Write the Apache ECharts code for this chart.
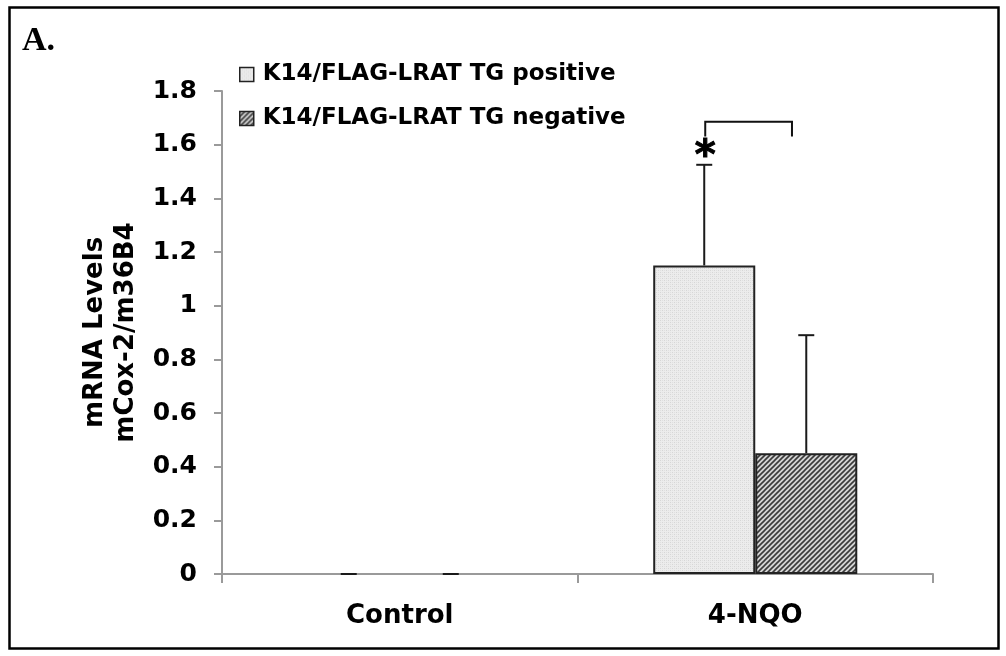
<!DOCTYPE html>
<html>
<head>
<meta charset="utf-8">
<script src="https://cdn.jsdelivr.net/npm/echarts@6/dist/echarts.min.js"></script>
<style>
html,body{margin:0;padding:0;background:#fff;}
#chart{width:1006px;height:656px;}
</style>
</head>
<body>
<div id="chart"></div>
<script>
// ---- data ----
const categories = ['Control', '4-NQO'];
const seriesNames = ['K14/FLAG-LRAT TG positive', 'K14/FLAG-LRAT TG negative'];
const positiveValues = [0, 1.15];
const positiveErrors = [0, 0.375];
const negativeValues = [0, 0.45];
const negativeErrors = [0, 0.44];
const yTicks = [0, 0.2, 0.4, 0.6, 0.8, 1, 1.2, 1.4, 1.6, 1.8];
const yTitle = 'mRNA Levels\nmCox-2/m36B4';
const panelLabel = 'A.';
// significance bracket (category index, top value, foot value, marker)
const sigCategory = 1;
const sigTop = 1.685;
const sigFoot = 1.63;
const sigMarkValue = 1.55;
const sigMark = '*';

// ---- patterns ----
function dotPattern() {
  const c = document.createElement('canvas');
  c.width = 4; c.height = 4;
  const g = c.getContext('2d');
  g.fillStyle = '#ececec'; g.fillRect(0, 0, 4, 4);
  g.fillStyle = '#d6d6d6';
  g.fillRect(0, 0, 1, 1); g.fillRect(2, 2, 1, 1);
  g.fillStyle = '#e0e0e0';
  g.fillRect(2, 0, 1, 1); g.fillRect(0, 2, 1, 1);
  return c;
}
function hatchPattern() {
  const s = 5;
  const c = document.createElement('canvas');
  c.width = s; c.height = s;
  const g = c.getContext('2d');
  g.fillStyle = '#d4d4d4'; g.fillRect(0, 0, s, s);
  g.strokeStyle = '#3a3a3a'; g.lineWidth = 1.6;
  g.beginPath();
  g.moveTo(-1, s + 1); g.lineTo(s + 1, -1);
  g.moveTo(-1, 1); g.lineTo(1, -1);
  g.moveTo(s - 1, s + 1); g.lineTo(s + 1, s - 1);
  g.stroke();
  return c;
}
const posFill = { image: dotPattern(), repeat: 'repeat' };
const negFill = { image: hatchPattern(), repeat: 'repeat' };

const FONT = 'DejaVu Sans';
const BAR_FRAC = 0.287;
const axisColor = '#9a9a9a';

// zero-height bars are not drawn (only their error caps show)
const barData = arr => arr.map(v => (v > 0 ? v : '-'));

const errData = [];
positiveValues.forEach((v, i) => errData.push([i, v, positiveErrors[i], -1]));
negativeValues.forEach((v, i) => errData.push([i, v, negativeErrors[i], 1]));

const chart = echarts.init(document.getElementById('chart'), null, { renderer: 'canvas' });
chart.setOption({
  animation: false,
  backgroundColor: '#fff',
  grid: { left: 222, right: 73, top: 91, bottom: 82, containLabel: false },
  legend: {
    orient: 'vertical',
    left: 234,
    top: 58,
    itemGap: 21,
    itemWidth: 14,
    itemHeight: 14,
    icon: 'rect',
    data: seriesNames,
    itemStyle: { borderColor: '#222', borderWidth: 1.5 },
    textStyle: { fontFamily: FONT, fontWeight: 'bold', fontSize: 23, color: '#000', padding: [0, 0, 0, 4] }
  },
  xAxis: {
    type: 'category',
    data: categories,
    axisLine: { lineStyle: { color: axisColor, width: 2 } },
    axisTick: { show: true, alignWithLabel: false, length: 9, lineStyle: { color: axisColor, width: 2 } },
    axisLabel: { margin: 29, fontFamily: FONT, fontWeight: 'bold', fontSize: 26, color: '#000' },
    splitLine: { show: false }
  },
  yAxis: {
    type: 'value',
    min: 0, max: 1.8, interval: 0.2,
    name: yTitle,
    nameLocation: 'middle',
    nameRotate: 90,
    nameGap: 75,
    nameTextStyle: { fontFamily: FONT, fontWeight: 'bold', fontSize: 26, color: '#000', lineHeight: 31 },
    axisLine: { show: true, lineStyle: { color: axisColor, width: 2 } },
    axisTick: { show: true, length: 8, lineStyle: { color: axisColor, width: 2 } },
    axisLabel: {
      margin: 25, fontFamily: FONT, fontWeight: 'bold', fontSize: 25, color: '#000',
      formatter: v => { const t = yTicks.find(x => Math.abs(x - v) < 1e-6); return t === undefined ? '' : String(t); }
    },
    splitLine: { show: false }
  },
  series: [
    {
      name: seriesNames[0], type: 'bar', data: barData(positiveValues),
      barWidth: (BAR_FRAC * 100) + '%', barGap: '0%',
      itemStyle: { color: posFill, borderColor: '#222', borderWidth: 2 }
    },
    {
      name: seriesNames[1], type: 'bar', data: barData(negativeValues),
      barWidth: (BAR_FRAC * 100) + '%', barGap: '0%',
      itemStyle: { color: negFill, borderColor: '#222', borderWidth: 2 }
    },
    {
      type: 'custom', name: 'err', data: errData, z: 5, silent: true,
      renderItem: function (params, api) {
        const cat = api.value(0), v = api.value(1), e = api.value(2), side = api.value(3);
        const bw = api.size([1, 0])[0] * BAR_FRAC;
        const base = api.coord([cat, v]);
        const top = api.coord([cat, v + e]);
        const x = base[0] + side * bw / 2;
        const st = { stroke: '#1a1a1a', lineWidth: 2 };
        return {
          type: 'group', children: [
            { type: 'line', shape: { x1: x, y1: base[1], x2: x, y2: top[1] }, style: st },
            { type: 'line', shape: { x1: x - 8, y1: top[1], x2: x + 8, y2: top[1] }, style: st }
          ]
        };
      }
    },
    {
      type: 'custom', name: 'sig', data: [[sigCategory, sigTop, sigFoot, sigMarkValue]], z: 6, silent: true,
      renderItem: function (params, api) {
        const cat = api.value(0);
        const bw = api.size([1, 0])[0] * BAR_FRAC;
        const c = api.coord([cat, api.value(1)]);
        const foot = api.coord([cat, api.value(2)]);
        const mk = api.coord([cat, api.value(3)]);
        const xl = c[0] - bw / 2 + 1;
        const xr = c[0] + bw * 0.36;
        const st = { stroke: '#111', lineWidth: 2, fill: null };
        return {
          type: 'group', children: [
            { type: 'polyline', shape: { points: [[xl, foot[1]], [xl, c[1]], [xr, c[1]], [xr, foot[1]]] }, style: st },
            { type: 'text', x: xl, y: mk[1], style: { text: sigMark, fontFamily: FONT, fontWeight: 'bold', fontSize: 40, fill: '#000', stroke: '#000', lineWidth: 1, align: 'center', verticalAlign: 'middle' } }
          ]
        };
      }
    }
  ],
  graphic: [
    { type: 'rect', shape: { x: 9.5, y: 7.5, width: 989, height: 641 }, style: { fill: null, stroke: '#000', lineWidth: 2.5 }, z: 100 },
    { type: 'text', left: 22, top: 24, style: { text: panelLabel, fontFamily: 'Liberation Serif', fontWeight: 'bold', fontSize: 34, fill: '#000' } }
  ]
});
</script>
</body>
</html>
